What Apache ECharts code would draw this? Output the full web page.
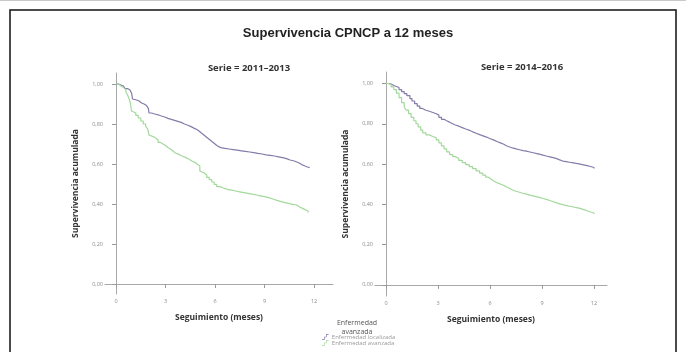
<!DOCTYPE html>
<html>
<head>
<meta charset="utf-8">
<script src="https://cdn.jsdelivr.net/npm/echarts@6/dist/echarts.min.js"></script>
<style>
  html, body { margin: 0; padding: 0; background: #ffffff; }
  #chart { width: 686px; height: 352px; }
</style>
</head>
<body>
<div id="chart"></div>
<script>
// Kaplan-Meier survival estimates, months of follow-up vs cumulative survival
const groupNames = ['Enfermedad localizada', 'Enfermedad avanzada'];
const panelTitles = ['Serie = 2011–2013', 'Serie = 2014–2016'];
const monthTicks = [0, 3, 6, 9, 12];
const survivalTicks = [0, 0.2, 0.4, 0.6, 0.8, 1.0];

// 2011-2013, localized disease
const loc1Months = [0, 0.15, 0.3, 0.45, 0.55, 0.7, 0.85, 0.95, 1.0, 1.1, 1.25, 1.4, 1.55, 1.7, 1.85, 1.96, 2.0, 2.15, 2.35, 2.55, 2.75, 2.95, 3.15, 3.35, 3.55, 3.75, 3.95, 4.15, 4.35, 4.55, 4.75, 4.95, 5.1, 5.25, 5.4, 5.55, 5.7, 5.85, 6.0, 6.15, 6.35, 6.6, 6.85, 7.1, 7.35, 7.6, 7.85, 8.1, 8.35, 8.6, 8.85, 9.1, 9.35, 9.6, 9.85, 10.1, 10.33, 10.55, 10.8, 10.95, 11.1, 11.25, 11.45, 11.6, 11.74];
const loc1Surv   = [1.0, 0.995, 0.99, 0.983, 0.977, 0.97, 0.962, 0.953, 0.925, 0.92, 0.915, 0.905, 0.9, 0.892, 0.885, 0.878, 0.855, 0.85, 0.846, 0.84, 0.835, 0.828, 0.823, 0.818, 0.813, 0.808, 0.8, 0.794, 0.787, 0.778, 0.77, 0.76, 0.75, 0.74, 0.73, 0.72, 0.71, 0.7, 0.69, 0.682, 0.678, 0.675, 0.672, 0.669, 0.666, 0.663, 0.66, 0.657, 0.653, 0.65, 0.646, 0.643, 0.64, 0.636, 0.632, 0.627, 0.62, 0.615, 0.61, 0.605, 0.597, 0.59, 0.585, 0.582, 0.58];

// 2011-2013, advanced disease
const adv1Months = [0, 0.15, 0.3, 0.45, 0.6, 0.7, 0.8, 0.88, 0.94, 1.05, 1.2, 1.35, 1.5, 1.65, 1.8, 1.92, 2.0, 2.1, 2.25, 2.4, 2.55, 2.7, 2.85, 3.0, 3.15, 3.3, 3.45, 3.6, 3.8, 4.0, 4.2, 4.4, 4.6, 4.8, 4.95, 5.08, 5.2, 5.35, 5.5, 5.65, 5.8, 5.95, 6.1, 6.3, 6.5, 6.75, 7.0, 7.25, 7.5, 7.75, 8.0, 8.25, 8.5, 8.75, 9.0, 9.25, 9.5, 9.75, 10.0, 10.25, 10.5, 10.73, 10.95, 11.13, 11.3, 11.45, 11.64];
const adv1Surv   = [1.0, 0.99, 0.982, 0.972, 0.96, 0.945, 0.925, 0.9, 0.865, 0.855, 0.843, 0.83, 0.815, 0.8, 0.788, 0.775, 0.745, 0.737, 0.73, 0.72, 0.708, 0.7, 0.692, 0.683, 0.675, 0.665, 0.655, 0.648, 0.64, 0.633, 0.625, 0.615, 0.607, 0.598, 0.59, 0.565, 0.555, 0.545, 0.533, 0.522, 0.51, 0.498, 0.487, 0.48, 0.473, 0.469, 0.465, 0.461, 0.457, 0.453, 0.449, 0.445, 0.441, 0.437, 0.432, 0.425, 0.418, 0.412, 0.407, 0.402, 0.398, 0.395, 0.385, 0.378, 0.372, 0.365, 0.357];

// 2014-2016, localized disease
const loc2Months = [0, 0.15, 0.3, 0.45, 0.6, 0.75, 0.9, 1.05, 1.2, 1.38, 1.5, 1.65, 1.8, 1.95, 2.1, 2.3, 2.5, 2.7, 2.9, 3.05, 3.2, 3.35, 3.5, 3.67, 3.85, 4.0, 4.2, 4.4, 4.6, 4.83, 5.0, 5.2, 5.4, 5.6, 5.8, 5.98, 6.2, 6.4, 6.6, 6.8, 6.94, 7.1, 7.3, 7.5, 7.7, 7.9, 8.1, 8.3, 8.5, 8.7, 8.9, 9.06, 9.25, 9.45, 9.65, 9.85, 10.02, 10.2, 10.4, 10.6, 10.8, 10.98, 11.2, 11.4, 11.6, 11.8, 12.0];
const loc2Surv   = [1.0, 0.997, 0.99, 0.985, 0.98, 0.97, 0.96, 0.95, 0.94, 0.925, 0.913, 0.9, 0.888, 0.876, 0.867, 0.862, 0.856, 0.85, 0.843, 0.832, 0.822, 0.815, 0.808, 0.8, 0.794, 0.788, 0.781, 0.774, 0.767, 0.76, 0.753, 0.746, 0.74, 0.734, 0.727, 0.72, 0.712, 0.705, 0.698, 0.691, 0.686, 0.68, 0.675, 0.671, 0.667, 0.664, 0.66, 0.656, 0.652, 0.648, 0.644, 0.64, 0.636, 0.632, 0.627, 0.621, 0.615, 0.612, 0.609, 0.606, 0.603, 0.6, 0.596, 0.592, 0.588, 0.583, 0.578];

// 2014-2016, advanced disease
const adv2Months = [0, 0.15, 0.3, 0.45, 0.6, 0.75, 0.9, 1.05, 1.15, 1.3, 1.45, 1.6, 1.73, 1.85, 2.0, 2.12, 2.3, 2.5, 2.7, 2.9, 3.05, 3.2, 3.35, 3.5, 3.67, 3.85, 4.0, 4.2, 4.4, 4.6, 4.8, 5.0, 5.2, 5.4, 5.58, 5.75, 5.9, 6.05, 6.2, 6.35, 6.5, 6.7, 6.9, 7.12, 7.3, 7.5, 7.7, 7.9, 8.1, 8.3, 8.5, 8.7, 8.9, 9.06, 9.25, 9.45, 9.65, 9.85, 10.02, 10.25, 10.5, 10.75, 10.98, 11.2, 11.4, 11.6, 11.8, 12.0];
const adv2Surv   = [1.0, 0.993, 0.983, 0.97, 0.952, 0.93, 0.905, 0.883, 0.868, 0.85, 0.832, 0.815, 0.8, 0.785, 0.768, 0.755, 0.745, 0.737, 0.73, 0.72, 0.705, 0.69, 0.675, 0.66, 0.647, 0.637, 0.628, 0.618, 0.607, 0.597, 0.587, 0.577, 0.566, 0.555, 0.545, 0.535, 0.526, 0.517, 0.51, 0.504, 0.497, 0.489, 0.48, 0.471, 0.465, 0.46, 0.455, 0.451, 0.446, 0.442, 0.437, 0.433, 0.429, 0.425, 0.419, 0.413, 0.407, 0.402, 0.397, 0.392, 0.388, 0.384, 0.38, 0.374, 0.368, 0.362, 0.357, 0.352];

const colorLoc = '#857ba8';
const colorAdv = '#a3d89c';
const axisGray = '#a8a8a8';
const labelGray = '#8a8a8a';

function pairs(xs, ys) { return xs.map((x, i) => [x, ys[i]]); }

const grids = [
  { left: 105, top: 73, width: 228, height: 221 },
  { left: 375, top: 72, width: 232, height: 224 }
];
const xRanges = [[-0.667, 13.15], [-0.635, 12.75]];
const yRanges = [[-0.05, 1.055], [-0.055, 1.057]];

function xAxis(i) {
  return {
    type: 'value', gridIndex: i, min: xRanges[i][0], max: xRanges[i][1],
    splitLine: { show: false },
    axisLine: { show: true, lineStyle: { color: axisGray, width: 1 } },
    axisTick: { show: true, customValues: monthTicks, length: 4, lineStyle: { color: '#999' } },
    axisLabel: { show: true, customValues: monthTicks, fontSize: 5.5, color: labelGray, margin: 4,
                 fontFamily: 'Open Sans' },
    name: 'Seguimiento (meses)', nameLocation: 'middle', nameGap: 19,
    nameTextStyle: { fontSize: 8.5, fontWeight: 'bold', color: '#333', fontFamily: 'Open Sans' }
  };
}
function yAxis(i) {
  return {
    type: 'value', gridIndex: i, min: yRanges[i][0], max: yRanges[i][1],
    splitLine: { show: false },
    axisLine: { show: true, lineStyle: { color: axisGray, width: 1 } },
    axisTick: { show: true, customValues: survivalTicks, length: 4, lineStyle: { color: '#999' } },
    axisLabel: { show: true, customValues: survivalTicks, fontSize: 5.5, color: labelGray, margin: 2,
                 fontFamily: 'Open Sans',
                 formatter: v => v.toFixed(2).replace('.', ',') },
    name: 'Supervivencia acumulada', nameLocation: 'middle', nameGap: 25,
    nameTextStyle: { fontSize: 8.5, fontWeight: 'bold', color: '#333', fontFamily: 'Open Sans' }
  };
}
function kmSeries(name, idx, xs, ys, color) {
  return {
    name: name, type: 'line', step: 'end', xAxisIndex: idx, yAxisIndex: idx,
    data: pairs(xs, ys), showSymbol: false, symbol: 'none', silent: true,
    lineStyle: { color: color, width: 1.2 }, itemStyle: { color: color }
  };
}

const stepIcon = 'path://M0,9 L3,9 L3,5 L6,5 L6,1 L10,1 L10,2 L7,2 L7,6 L4,6 L4,10 L0,10 Z';

const chart = echarts.init(document.getElementById('chart'), null, { renderer: 'canvas' });
chart.setOption({
  backgroundColor: '#ffffff',
  animation: false,
  title: [
    { text: 'Supervivencia CPNCP a 12 meses', left: 343, top: 22, textAlign: 'center',
      textStyle: { fontSize: 13, fontWeight: 'bold', color: '#222', fontFamily: 'Liberation Sans' } },
    { text: panelTitles[0], left: 244, top: 58, textAlign: 'center',
      textStyle: { fontSize: 9.5, fontWeight: 'bold', color: '#333', fontFamily: 'Open Sans' } },
    { text: panelTitles[1], left: 517, top: 57, textAlign: 'center',
      textStyle: { fontSize: 9.5, fontWeight: 'bold', color: '#333', fontFamily: 'Open Sans' } },
    { text: 'Enfermedad\navanzada', left: 352, top: 314, textAlign: 'center',
      textStyle: { fontSize: 7, fontWeight: 'normal', color: '#555', lineHeight: 8.5, fontFamily: 'Open Sans' } }
  ],
  legend: {
    data: groupNames, orient: 'vertical', left: 322, top: 334, height: 40,
    itemWidth: 9, itemHeight: 6, itemGap: 0, icon: stepIcon, padding: 0,
    textStyle: { fontSize: 6, color: '#999', fontFamily: 'Open Sans', padding: [0, 0, 0, -3] },
    selectedMode: false
  },
  grid: grids,
  xAxis: [xAxis(0), xAxis(1)],
  yAxis: [yAxis(0), yAxis(1)],
  series: [
    kmSeries(groupNames[0], 0, loc1Months, loc1Surv, colorLoc),
    kmSeries(groupNames[1], 0, adv1Months, adv1Surv, colorAdv),
    kmSeries(groupNames[0], 1, loc2Months, loc2Surv, colorLoc),
    kmSeries(groupNames[1], 1, adv2Months, adv2Surv, colorAdv)
  ],
  graphic: [
    { type: 'rect', shape: { x: 10, y: 10, width: 666, height: 360 }, silent: true,
      style: { fill: 'none', stroke: '#111', lineWidth: 1.5 } },
    { type: 'line', shape: { x1: 0, y1: 0.5, x2: 686, y2: 0.5 }, silent: true,
      style: { stroke: '#c8c8c8', lineWidth: 1 } }
  ]
});
</script>
</body>
</html>
